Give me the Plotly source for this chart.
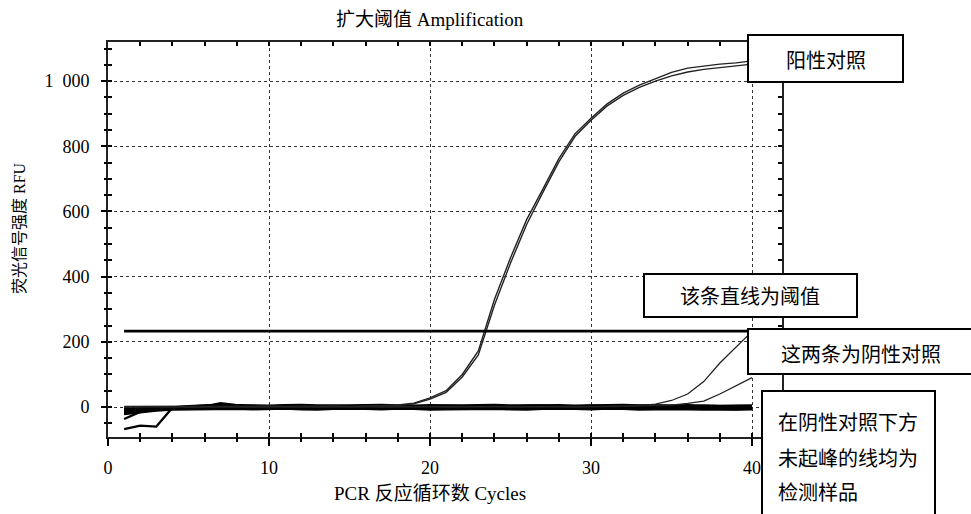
import plotly.graph_objects as go

# ---------------- data ----------------
cycles = list(range(1, 41))

positive_a = [2, 3, 2, 1, 2, 3, 2, 1, 2, 2, 1, 2, 3, 2, 2, 3, 4, 6, 12, 28,
              50, 100, 172, 330, 458, 575, 668, 762, 838, 886, 930, 963, 988, 1008, 1027, 1040, 1047, 1052, 1056, 1062]
positive_b = [1, 2, 3, 2, 1, 2, 3, 2, 1, 3, 2, 1, 2, 3, 1, 2, 3, 5, 10, 24,
              45, 92, 160, 312, 442, 560, 658, 752, 830, 880, 924, 956, 981, 1000, 1016, 1028, 1036, 1042, 1047, 1052]

negative_1 = [0, 1, 2, 1, 0, 1, 2, 1, 0, 1, 2, 1, 0, 1, 2, 1, 0, 1, 2, 1,
              0, 1, 2, 1, 0, 1, 2, 1, 0, 1, 2, 2, 4, 9, 20, 40, 78, 135, 182, 232]
negative_2 = [1, 0, 1, 2, 1, 0, 1, 2, 1, 0, 1, 2, 1, 0, 1, 2, 1, 0, 1, 2,
              1, 0, 1, 2, 1, 0, 1, 2, 1, 0, 1, 2, 3, 4, 6, 11, 18, 40, 65, 90]

samples = [
    [-20, -12, -6, -1, 2, 4, 5, 4, 3, 2, 4, 5, 3, 2, 3, 4, 5, 3, 2, 3, 4, 5, 4, 3, 2, 4, 5, 3, 2, 4, 3, 2, 4, 5, 3, 2, 4, 3, 2, 3],
    [-15, -11, -8, -6, -5, -3, -2, -4, -5, -4, -3, -5, -6, -4, -3, -4, -5, -6, -4, -3, -4, -5, -3, -4, -6, -5, -4, -3, -5, -6, -4, -3, -4, -5, -6, -5, -4, -6, -7, -5],
    [-10, -7, -4, -2, 0, 2, 5, 3, 1, 0, -1, 0, 1, 2, 1, 0, -1, -2, -1, 0, 1, 0, -1, 0, 1, 2, 1, 0, -1, -2, -1, 0, 1, 0, -1, 0, 1, 0, -1, -2],
    [-5, -4, -2, -1, 0, 3, 8, 4, 1, 0, 1, 0, -1, 0, 1, 0, 1, 2, 1, 0, -1, -2, -1, 0, 1, 3, 2, 1, 0, -1, 0, 1, 2, 1, 0, -1, -2, -3, -2, -1],
    [-18, -12, -7, -3, -1, 2, 12, 6, 0, -2, -3, -1, -2, -3, -1, -2, -3, -4, -2, -1, -2, -3, -2, -1, -3, -4, -2, -1, -2, -3, -2, -1, -3, -2, -1, -2, -3, -4, -5, -4],
    [-37, -15, -8, -3, -1, 0, 1, 0, -1, 0, 1, 2, 1, 0, -2, -1, 0, 1, 0, -1, 0, 1, 2, 1, 0, -1, 0, 1, 0, -1, -2, -1, 0, 1, 2, 1, 0, -1, 0, 1],
    [-68, -57, -60, -2, 0, 1, 2, 1, 0, -1, 0, 1, 0, -1, 0, 1, 0, -1, -2, -1, 0, 1, 0, -1, 0, 2, 1, 0, -1, 0, 1, 0, -1, 0, 1, 0, -1, -2, -3, -2],
    [-12, -8, -4, 0, 3, 5, 7, 6, 5, 4, 6, 7, 5, 4, 5, 6, 7, 5, 4, 6, 5, 4, 6, 7, 5, 4, 5, 6, 4, 5, 6, 7, 5, 4, 5, 6, 4, 3, 4, 5],
    [-22, -16, -11, -8, -7, -6, -5, -6, -7, -6, -5, -7, -8, -6, -5, -6, -7, -5, -6, -8, -7, -6, -5, -6, -7, -8, -6, -5, -6, -7, -5, -6, -8, -7, -6, -7, -8, -9, -8, -7],
    [-8, -6, -3, -1, 1, 2, 7, 4, 2, 1, 0, -1, 0, 1, 0, -1, 0, 1, 0, -2, -1, 0, 1, 0, -1, 0, 2, 1, 0, -1, 0, 1, 0, -1, 0, 1, 2, 1, 0, -1],
]

threshold_x = [1, 41.86]
threshold_y = [233, 233]

x_range = [0, 41.86]
y_range = [-92, 1120]
x_ticks = [0, 10, 20, 30, 40]
x_ticktext = ["0", "10", "20", "30", "40"]
y_ticks = [0, 200, 400, 600, 800, 1000]
y_ticktext = ["0", "200", "400", "600", "800", "1\u2002000"]

title_text = "扩大阈值 Amplification"
x_title = "PCR 反应循环数 Cycles"
y_title = "荧光信号强度 RFU"
label_pos = "阳性对照"
label_thr = "该条直线为阈值"
label_neg = "这两条为阴性对照"
label_samples = ["在阴性对照下方", "未起峰的线均为", "检测样品"]

# ---------------- figure ----------------
W, H = 971, 514
L, R, T, B = 108, 782, 42, 437
FONT = "Liberation Serif, Noto Sans CJK SC, serif"
CJK = "Noto Sans CJK SC, Liberation Serif, sans-serif"


def px(x):
    return (x - L) / (R - L)


def py(y):
    return (B - y) / (B - T)


fig = go.Figure()

for s in samples:
    fig.add_trace(go.Scatter(x=cycles, y=s, mode="lines",
                             line=dict(color="black", width=2.2), hoverinfo="skip"))

for s in (negative_1, negative_2):
    fig.add_trace(go.Scatter(x=cycles, y=s, mode="lines",
                             line=dict(color="#222", width=1.3), hoverinfo="skip"))

for s in (positive_a, positive_b):
    fig.add_trace(go.Scatter(x=cycles, y=s, mode="lines",
                             line=dict(color="#222", width=1.4), hoverinfo="skip"))

fig.add_trace(go.Scatter(x=threshold_x, y=threshold_y, mode="lines", xaxis="x2", yaxis="y2",
                         line=dict(color="black", width=2.8), hoverinfo="skip"))

fig.update_layout(
    width=W, height=H,
    margin=dict(l=L, r=W - R, t=T, b=H - B),
    paper_bgcolor="white", plot_bgcolor="white",
    showlegend=False,
    font=dict(family=FONT, size=18, color="black"),
    xaxis=dict(range=x_range, tickvals=x_ticks, showticklabels=False,
               ticks="inside", ticklen=4, tickwidth=1.5, tickcolor="black",
               showline=True, linewidth=2, linecolor="#222", mirror="ticks",
               showgrid=True, gridcolor="#333", griddash="dot", gridwidth=1,
               zeroline=False,
               minor=dict(dtick=2, ticks="inside", ticklen=4, tickwidth=1.5, tickcolor="black", showgrid=False)),
    yaxis=dict(range=y_range, tickvals=y_ticks, showticklabels=False,
               ticks="inside", ticklen=4, tickwidth=1.5, tickcolor="black",
               showline=True, linewidth=2, linecolor="#222", mirror="ticks",
               showgrid=True, gridcolor="#333", griddash="dot", gridwidth=1,
               zeroline=False,
               minor=dict(dtick=50, ticks="inside", ticklen=4, tickwidth=1.5, tickcolor="black", showgrid=False)),
    xaxis2=dict(range=x_range, overlaying="x", side="bottom", anchor="y2",
                tickvals=x_ticks, ticktext=x_ticktext,
                ticks="outside", ticklen=8, tickwidth=1.5, tickcolor="black",
                showline=False, showgrid=False, zeroline=False,
                ticklabelstandoff=6,
                tickfont=dict(family=FONT, size=18),
                minor=dict(dtick=2, ticks="outside", ticklen=4, tickwidth=1.5, tickcolor="black", showgrid=False)),
    yaxis2=dict(range=y_range, overlaying="y", side="left", anchor="x2",
                tickvals=y_ticks, ticktext=y_ticktext,
                ticks="outside", ticklen=6, tickwidth=1.5, tickcolor="black",
                showline=False, showgrid=False, zeroline=False,
                ticklabelstandoff=8,
                tickfont=dict(family=FONT, size=18),
                minor=dict(dtick=50, ticks="outside", ticklen=3, tickwidth=1.5, tickcolor="black", showgrid=False)),
)

# boxes (pixel rectangles converted to paper coords)
boxes = [(748, 35, 903, 82), (644, 274, 857, 317), (748, 329, 980, 374), (762, 391, 935, 530)]
for x0, y0, x1, y1 in boxes:
    fig.add_shape(type="rect", xref="paper", yref="paper",
                  x0=px(x0), x1=px(x1), y0=py(y1), y1=py(y0),
                  line=dict(color="black", width=2), fillcolor="white", layer="above")

ann = []
ann.append(dict(text=title_text, x=px(430), y=py(20), font=dict(size=19)))
ann.append(dict(text=x_title, x=px(430), y=py(493), font=dict(size=19)))
ann.append(dict(text=y_title, x=px(20), y=py(228), textangle=-90, font=dict(size=16)))
ann.append(dict(text=label_pos, x=px(826), y=py(59), font=dict(family=CJK, size=20)))
ann.append(dict(text=label_thr, x=px(750), y=py(295), font=dict(family=CJK, size=20)))
ann.append(dict(text=label_neg, x=px(861), y=py(353), font=dict(family=CJK, size=20)))
for t, yy in zip(label_samples, [421, 457, 491]):
    ann.append(dict(text=t, x=px(776), y=py(yy), xanchor="left", font=dict(family=CJK, size=20)))

for a in ann:
    a.setdefault("xanchor", "center")
    a.update(xref="paper", yref="paper", yanchor="middle", showarrow=False)
    fig.add_annotation(**a)

fig.write_html("out.html", config={"displayModeBar": False},
               post_script="document.body.style.margin='0';document.body.style.overflow='hidden';")
